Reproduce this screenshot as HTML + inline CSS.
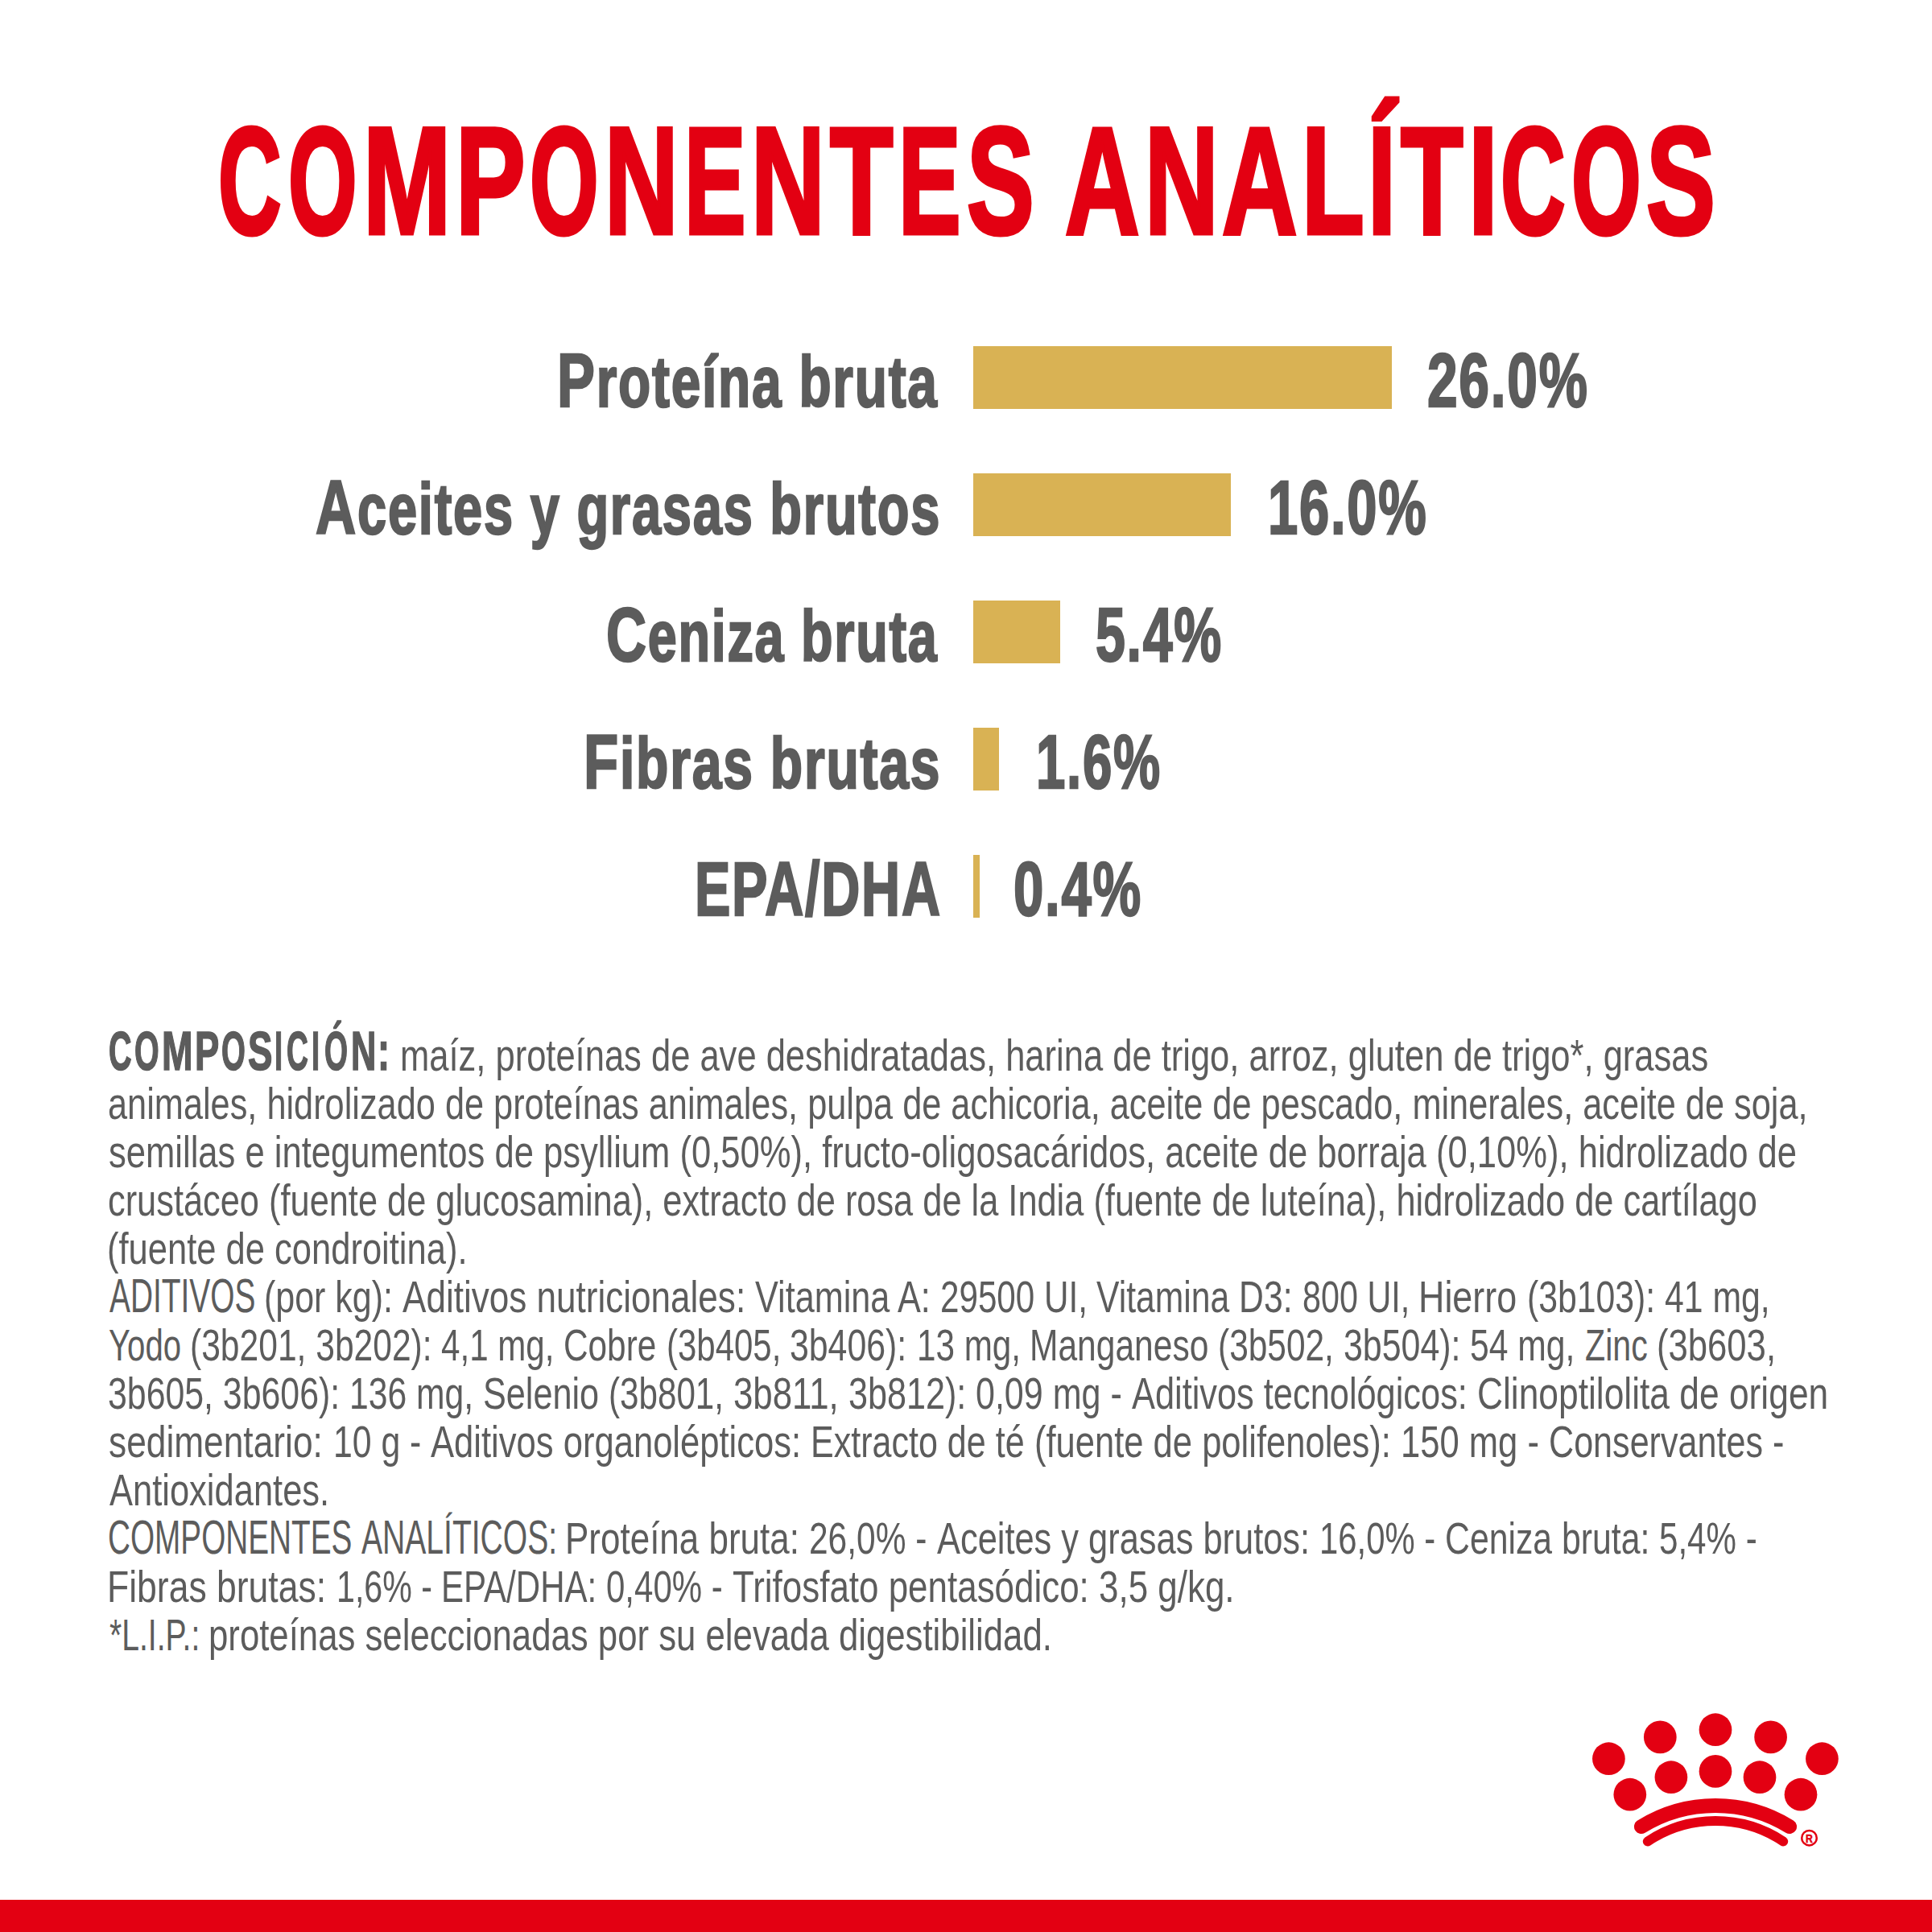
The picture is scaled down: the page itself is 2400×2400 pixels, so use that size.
<!DOCTYPE html>
<html lang="es">
<head>
<meta charset="utf-8">
<title>Componentes analíticos</title>
<style>
html,body{margin:0;padding:0;background:#fff;}
body{width:2400px;height:2400px;position:relative;overflow:hidden;font-family:"Liberation Sans",sans-serif;}
h1,p,div,b{margin:0;padding:0;font-weight:normal;font-size:inherit;}
.t{position:absolute;display:block;white-space:pre;line-height:1;transform-origin:0 0;margin:0;padding:0;}
.cp{font-size:1.07em;}
.bar{position:absolute;background:#d9b254;}
.foot{position:absolute;left:0;top:2360px;width:2400px;height:40px;background:#e30012;}
.k0{font-size:189.7px;color:#e30012;font-weight:bold;letter-spacing:0px;-webkit-text-stroke:5px #e30012;}
.k1{font-size:89px;color:#5c5c5c;font-weight:bold;letter-spacing:2.4px;-webkit-text-stroke:2.4px #5c5c5c;}
.k2{font-size:95px;color:#5c5c5c;font-weight:bold;letter-spacing:2.4px;-webkit-text-stroke:2.4px #5c5c5c;}
.k3{font-size:94.5px;color:#5c5c5c;font-weight:bold;letter-spacing:2.4px;-webkit-text-stroke:2.4px #5c5c5c;}
.k4{font-size:68px;color:#5c5c5c;font-weight:bold;letter-spacing:0px;-webkit-text-stroke:1.6px #5c5c5c;}
.k5{font-size:56px;color:#5c5c5c;font-weight:normal;letter-spacing:0px;-webkit-text-stroke:0px #5c5c5c;}
.k6{font-size:58.7px;color:#5c5c5c;font-weight:normal;letter-spacing:0px;-webkit-text-stroke:0px #5c5c5c;}
</style>
</head>
<body>
<h1><span id="ta0" class="t k0" style="left:271.41px;top:130.00px;transform:scaleX(0.57295)">C</span><span id="ta1" class="t k0" style="left:357.94px;top:130.00px;transform:scaleX(0.58054)">O</span><span id="ta2" class="t k0" style="left:451.18px;top:130.00px;transform:scaleX(0.69128)">M</span><span id="ta3" class="t k0" style="left:565.89px;top:130.00px;transform:scaleX(0.68459)">P</span><span id="ta4" class="t k0" style="left:657.77px;top:130.00px;transform:scaleX(0.58050)">O</span><span id="ta5" class="t k0" style="left:750.87px;top:130.00px;transform:scaleX(0.66869)">N</span><span id="ta6" class="t k0" style="left:850.12px;top:130.00px;transform:scaleX(0.60444)">E</span><span id="ta7" class="t k0" style="left:933.13px;top:130.00px;transform:scaleX(0.66866)">N</span><span id="ta8" class="t k0" style="left:1031.28px;top:130.00px;transform:scaleX(0.67723)">T</span><span id="ta9" class="t k0" style="left:1116.04px;top:130.00px;transform:scaleX(0.61347)">E</span><span id="ta10" class="t k0" style="left:1200.87px;top:130.00px;transform:scaleX(0.66151)">S</span> <span id="tb0" class="t k0" style="left:1323.25px;top:130.00px;transform:scaleX(0.67550)">A</span><span id="tb1" class="t k0" style="left:1422.03px;top:130.00px;transform:scaleX(0.66869)">N</span><span id="tb2" class="t k0" style="left:1518.15px;top:130.00px;transform:scaleX(0.68292)">A</span><span id="tb3" class="t k0" style="left:1616.85px;top:130.00px;transform:scaleX(0.67135)">L</span><span id="tb4" class="t k0" style="left:1699.03px;top:130.00px;transform:scaleX(0.66548)">Í</span><span id="tb5" class="t k0" style="left:1740.00px;top:130.00px;transform:scaleX(0.66869)">T</span><span id="tb6" class="t k0" style="left:1824.13px;top:130.00px;transform:scaleX(0.69717)">I</span><span id="tb7" class="t k0" style="left:1864.32px;top:130.00px;transform:scaleX(0.58849)">C</span><span id="tb8" class="t k0" style="left:1952.31px;top:130.00px;transform:scaleX(0.58787)">O</span><span id="tb9" class="t k0" style="left:2044.74px;top:130.00px;transform:scaleX(0.67827)">S</span></h1>
<div class="row"><span id="l1" class="t k1" style="left:691.90px;top:424.81px;transform:scaleX(0.73884)"><span class="cp">P</span>roteína bruta</span> <span class="bar" style="left:1209px;top:430px;width:520px;height:77.5px;"></span> <span id="v1" class="t k3" style="left:1772.61px;top:424.82px;transform:scaleX(0.71641)">26.0%</span></div>
<div class="row"><span id="l2" class="t k1" style="left:392.00px;top:582.81px;transform:scaleX(0.73048)"><span class="cp">A</span>ceites y grasas brutos</span> <span class="bar" style="left:1209px;top:588px;width:320px;height:77.5px;"></span> <span id="v2" class="t k3" style="left:1574.55px;top:582.82px;transform:scaleX(0.70907)">16.0%</span></div>
<div class="row"><span id="l3" class="t k1" style="left:752.67px;top:740.81px;transform:scaleX(0.72719)"><span class="cp">C</span>eniza bruta</span> <span class="bar" style="left:1209px;top:746px;width:108px;height:77.5px;"></span> <span id="v3" class="t k3" style="left:1361.03px;top:740.82px;transform:scaleX(0.70192)">5.4%</span></div>
<div class="row"><span id="l4" class="t k1" style="left:724.69px;top:898.81px;transform:scaleX(0.74190)"><span class="cp">F</span>ibras brutas</span> <span class="bar" style="left:1209px;top:904px;width:32px;height:77.5px;"></span> <span id="v4" class="t k3" style="left:1287.11px;top:898.82px;transform:scaleX(0.69250)">1.6%</span></div>
<div class="row"><span id="l5" class="t k2" style="left:862.59px;top:1056.81px;transform:scaleX(0.70131)">EPA/DHA</span> <span class="bar" style="left:1209px;top:1062px;width:8px;height:77.5px;"></span> <span id="v5" class="t k3" style="left:1259.42px;top:1056.82px;transform:scaleX(0.71092)">0.4%</span></div>
<div class="body">
<p><b><span id="bh0" class="t k4" style="left:135.47px;top:1271.20px;transform:scaleX(0.58068)">C</span><span id="bh1" class="t k4" style="left:166.56px;top:1271.20px;transform:scaleX(0.58000)">O</span><span id="bh2" class="t k4" style="left:200.89px;top:1271.20px;transform:scaleX(0.68000)">M</span><span id="bh3" class="t k4" style="left:241.75px;top:1271.20px;transform:scaleX(0.66769)">P</span><span id="bh4" class="t k4" style="left:275.17px;top:1271.20px;transform:scaleX(0.56428)">O</span><span id="bh5" class="t k4" style="left:307.84px;top:1271.20px;transform:scaleX(0.67200)">S</span><span id="bh6" class="t k4" style="left:340.85px;top:1271.20px;transform:scaleX(0.53550)">I</span><span id="bh7" class="t k4" style="left:355.94px;top:1271.20px;transform:scaleX(0.54669)">C</span><span id="bh8" class="t k4" style="left:386.85px;top:1271.20px;transform:scaleX(0.53550)">I</span><span id="bh9" class="t k4" style="left:402.58px;top:1271.20px;transform:scaleX(0.54844)">Ó</span><span id="bh10" class="t k4" style="left:436.01px;top:1271.20px;transform:scaleX(0.63689)">N</span><span id="bh11" class="t k4" style="left:469.31px;top:1271.20px;transform:scaleX(0.66461)">:</span></b> <span id="b1_0" class="t k5" style="left:496.80px;top:1283.01px;transform:scaleX(0.77692)">maíz, proteínas de ave deshidratadas, harina de trigo, arroz, gluten de trigo*, grasas</span></p>
<p><span id="b2_0" class="t k5" style="left:134.30px;top:1343.01px;transform:scaleX(0.77342)">animales, hidrolizado de proteínas animales, pulpa de achicoria, aceite de pescado, minerales, aceite de soja,</span></p>
<p><span id="b3_0" class="t k5" style="left:135.37px;top:1403.01px;transform:scaleX(0.77792)">semillas e integumentos de psyllium (0,50%), fructo-oligosacáridos, aceite de borraja (0,10%), hidrolizado de</span></p>
<p><span id="b4_0" class="t k5" style="left:134.30px;top:1463.01px;transform:scaleX(0.77429)">crustáceo (fuente de glucosamina), extracto de rosa de la India (fuente de luteína), hidrolizado de cartílago</span></p>
<p><span id="b5_0" class="t k5" style="left:132.97px;top:1523.01px;transform:scaleX(0.77707)">(fuente de condroitina).</span></p>
<p><span id="b6_0" class="t k6" style="left:135.74px;top:1581.01px;transform:scaleX(0.66227)">ADITIVOS </span><span id="b6_1" class="t k5" style="left:327.66px;top:1583.01px;transform:scaleX(0.76749)">(por kg): </span><span id="b6_2" class="t k5" style="left:499.63px;top:1583.01px;transform:scaleX(0.78680)">Aditivos nutricionales: </span><span id="b6_3" class="t k5" style="left:938.00px;top:1583.01px;transform:scaleX(0.77140)">Vitamina A: </span><span id="b6_4" class="t k5" style="left:1167.78px;top:1583.01px;transform:scaleX(0.75316)">29500 UI, </span><span id="b6_5" class="t k5" style="left:1362.40px;top:1583.01px;transform:scaleX(0.76205)">Vitamina D3: </span><span id="b6_6" class="t k5" style="left:1617.86px;top:1583.01px;transform:scaleX(0.73753)">800 UI, </span><span id="b6_7" class="t k5" style="left:1762.23px;top:1583.01px;transform:scaleX(0.80074)">Hierro </span><span id="b6_8" class="t k5" style="left:1896.88px;top:1583.01px;transform:scaleX(0.76326)">(3b103): 41 mg,</span></p>
<p><span id="b7_0" class="t k5" style="left:134.75px;top:1643.01px;transform:scaleX(0.71649)">Yodo </span><span id="b7_1" class="t k5" style="left:235.80px;top:1643.01px;transform:scaleX(0.76016)">(3b201, 3b202): </span><span id="b7_2" class="t k5" style="left:548.23px;top:1643.01px;transform:scaleX(0.75224)">4,1 mg, </span><span id="b7_3" class="t k5" style="left:700.42px;top:1643.01px;transform:scaleX(0.75594)">Cobre </span><span id="b7_4" class="t k5" style="left:827.50px;top:1643.01px;transform:scaleX(0.74922)">(3b405, </span><span id="b7_5" class="t k5" style="left:981.43px;top:1643.01px;transform:scaleX(0.76452)">3b406): </span><span id="b7_6" class="t k5" style="left:1138.58px;top:1643.01px;transform:scaleX(0.75377)">13 mg, </span><span id="b7_7" class="t k5" style="left:1279.33px;top:1643.01px;transform:scaleX(0.75966)">Manganeso </span><span id="b7_8" class="t k5" style="left:1513.48px;top:1643.01px;transform:scaleX(0.75754)">(3b502, </span><span id="b7_9" class="t k5" style="left:1669.13px;top:1643.01px;transform:scaleX(0.76561)">3b504): </span><span id="b7_10" class="t k5" style="left:1826.48px;top:1643.01px;transform:scaleX(0.76170)">54 mg, </span><span id="b7_11" class="t k5" style="left:1968.77px;top:1643.01px;transform:scaleX(0.73459)">Zinc </span><span id="b7_12" class="t k5" style="left:2057.74px;top:1643.01px;transform:scaleX(0.77929)">(3b603,</span></p>
<p><span id="b8_0" class="t k5" style="left:134.34px;top:1703.01px;transform:scaleX(0.76466)">3b605, 3b606): </span><span id="b8_1" class="t k5" style="left:434.35px;top:1703.01px;transform:scaleX(0.76126)">136 mg, </span><span id="b8_2" class="t k5" style="left:600.21px;top:1703.01px;transform:scaleX(0.77109)">Selenio </span><span id="b8_3" class="t k5" style="left:756.31px;top:1703.01px;transform:scaleX(0.75311)">(3b801, </span><span id="b8_4" class="t k5" style="left:910.99px;top:1703.01px;transform:scaleX(0.78223)">3b811, </span><span id="b8_5" class="t k5" style="left:1053.93px;top:1703.01px;transform:scaleX(0.77045)">3b812): </span><span id="b8_6" class="t k5" style="left:1212.26px;top:1703.01px;transform:scaleX(0.76812)">0,09 mg - </span><span id="b8_7" class="t k5" style="left:1405.91px;top:1703.01px;transform:scaleX(0.77410)">Aditivos tecnológicos: </span><span id="b8_8" class="t k5" style="left:1834.77px;top:1703.01px;transform:scaleX(0.79162)">Clinoptilolita de origen</span></p>
<p><span id="b9_0" class="t k5" style="left:135.38px;top:1763.01px;transform:scaleX(0.79074)">sedimentario: </span><span id="b9_1" class="t k5" style="left:413.62px;top:1763.01px;transform:scaleX(0.76343)">10 g - </span><span id="b9_2" class="t k5" style="left:534.83px;top:1763.01px;transform:scaleX(0.77813)">Aditivos organolépticos: </span><span id="b9_3" class="t k5" style="left:1007.20px;top:1763.01px;transform:scaleX(0.76878)">Extracto de té </span><span id="b9_4" class="t k5" style="left:1284.76px;top:1763.01px;transform:scaleX(0.77736)">(fuente de polifenoles): </span><span id="b9_5" class="t k5" style="left:1739.72px;top:1763.01px;transform:scaleX(0.77808)">150 mg - </span><span id="b9_6" class="t k5" style="left:1923.80px;top:1763.01px;transform:scaleX(0.76982)">Conservantes -</span></p>
<p><span id="b10_0" class="t k5" style="left:135.50px;top:1823.01px;transform:scaleX(0.77649)">Antioxidantes.</span></p>
<p><span id="b11_0" class="t k6" style="left:134.47px;top:1881.01px;transform:scaleX(0.65994)">COMPONENTES </span><span id="b11_1" class="t k6" style="left:448.65px;top:1881.01px;transform:scaleX(0.66566)">ANALÍTICOS: </span><span id="b11_2" class="t k5" style="left:702.14px;top:1883.01px;transform:scaleX(0.78545)">Proteína bruta: </span><span id="b11_3" class="t k5" style="left:1005.41px;top:1883.01px;transform:scaleX(0.75855)">26,0% - </span><span id="b11_4" class="t k5" style="left:1163.62px;top:1883.01px;transform:scaleX(0.77492)">Aceites y grasas brutos: </span><span id="b11_5" class="t k5" style="left:1638.89px;top:1883.01px;transform:scaleX(0.74687)">16,0% - </span><span id="b11_6" class="t k5" style="left:1794.61px;top:1883.01px;transform:scaleX(0.76351)">Ceniza bruta: </span><span id="b11_7" class="t k5" style="left:2060.83px;top:1883.01px;transform:scaleX(0.75171)">5,4% -</span></p>
<p><span id="b12_0" class="t k5" style="left:133.11px;top:1943.01px;transform:scaleX(0.79469)">Fibras brutas: </span><span id="b12_1" class="t k5" style="left:417.79px;top:1943.01px;transform:scaleX(0.73539)">1,6% - </span><span id="b12_2" class="t k5" style="left:548.18px;top:1943.01px;transform:scaleX(0.75134)">EPA/DHA: </span><span id="b12_3" class="t k5" style="left:753.16px;top:1943.01px;transform:scaleX(0.75003)">0,40% - </span><span id="b12_4" class="t k5" style="left:909.54px;top:1943.01px;transform:scaleX(0.78452)">Trifosfato pentasódico: 3,5 g/kg.</span></p>
<p><span id="b13_0" class="t k5" style="left:136.36px;top:2003.01px;transform:scaleX(0.69776)">*L.I.P.: </span><span id="b13_1" class="t k5" style="left:259.12px;top:2003.01px;transform:scaleX(0.78100)">proteínas seleccionadas por su elevada digestibilidad.</span></p>
</div>
<svg class="crown" style="position:absolute;left:1940px;top:2120px;" width="400" height="240" viewBox="1940 2120 400 240" role="img" aria-label="Royal Canin">
<g fill="#e30012">
<circle cx="1998.4" cy="2184.7" r="20.35"/>
<circle cx="2062.3" cy="2157.9" r="20.35"/>
<circle cx="2131.0" cy="2148.7" r="20.35"/>
<circle cx="2199.6" cy="2157.9" r="20.35"/>
<circle cx="2263.4" cy="2184.7" r="20.35"/>
<circle cx="2024.8" cy="2229.2" r="20.35"/>
<circle cx="2075.9" cy="2207.7" r="20.35"/>
<circle cx="2131.0" cy="2200.4" r="20.35"/>
<circle cx="2186.0" cy="2207.7" r="20.35"/>
<circle cx="2237.0" cy="2229.2" r="20.35"/>
</g>
<g fill="none" stroke="#e30012" stroke-linecap="round">
<path d="M2038.9 2269.1 A175.5 175.5 0 0 1 2223.1 2269.1" stroke-width="17.9"/>
<path d="M2046.8 2287.4 A152.4 152.4 0 0 1 2215.2 2287.4" stroke-width="12"/>
</g>
<circle cx="2247.5" cy="2283.2" r="9.25" fill="none" stroke="#e30012" stroke-width="2.5"/>
<text transform="translate(2247.3 2288.7) scale(0.8 1)" x="0" y="0" font-family="Liberation Sans, sans-serif" font-weight="bold" font-size="15.3" text-anchor="middle" fill="#e30012" stroke="#e30012" stroke-width="0.5">R</text>
</svg>

<div class="foot"></div>
</body>
</html>
